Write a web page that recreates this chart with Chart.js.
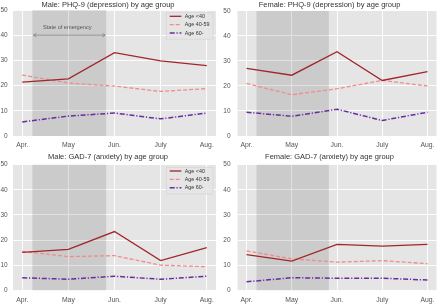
<!DOCTYPE html>
<html>
<head>
<meta charset="utf-8">
<script src="https://cdn.jsdelivr.net/npm/chart.js@4"></script>
<style>
  html, body { margin: 0; padding: 0; background: #ffffff; }
  body { width: 440px; height: 304px; position: relative; overflow: hidden; }
  .panel { position: absolute; width: 220px; height: 152px; }
  canvas { display: block; }
</style>
</head>
<body>
<div class="panel" style="left:0;top:0"><canvas id="c1" width="220" height="152"></canvas></div>
<div class="panel" style="left:220px;top:0"><canvas id="c2" width="220" height="152"></canvas></div>
<div class="panel" style="left:0;top:152px"><canvas id="c3" width="220" height="152"></canvas></div>
<div class="panel" style="left:220px;top:152px"><canvas id="c4" width="220" height="152"></canvas></div>
<script>
// ---- data ----
const months = ['Apr.', 'May', 'Jun.', 'July', 'Aug.'];
const seriesNames = ['Age <40', 'Age 40-59', 'Age 60-'];
const yTicks = [0, 10, 20, 30, 40, 50];

const malePhqU40   = [21.4, 22.7, 33.1, 29.8, 27.9];
const malePhq4059  = [24.2, 21.0, 19.8, 17.7, 18.8];
const malePhq60    = [5.6, 7.9, 9.1, 6.8, 9.1];

const femalePhqU40  = [27.0, 24.3, 33.7, 22.2, 25.7];
const femalePhq4059 = [21.0, 16.5, 18.9, 22.2, 20.0];
const femalePhq60   = [9.5, 7.9, 10.7, 6.2, 9.5];

const maleGadU40   = [15.1, 16.3, 23.4, 11.8, 17.0];
const maleGad4059  = [15.5, 13.4, 13.8, 10.0, 9.4];
const maleGad60    = [5.0, 4.4, 5.6, 4.4, 5.6];

const femaleGadU40  = [14.2, 11.6, 18.3, 17.6, 18.3];
const femaleGad4059 = [15.7, 12.5, 11.2, 11.8, 10.6];
const femaleGad60   = [3.4, 5.0, 4.8, 4.8, 4.1];

const titles = [
  'Male: PHQ-9 (depression) by age group',
  'Female: PHQ-9 (depression) by age group',
  'Male: GAD-7 (anxiety) by age group',
  'Female: GAD-7 (anxiety) by age group'
];
const emergencyLabel = 'State of emergency';
const emergencyStart = 0.22;   // in month units (Apr. = 0)
const emergencyEnd = 1.82;
const emergencyArrowY = 40;

// ---- styles ----
const FONT = "'Liberation Sans', Arial, Helvetica, sans-serif";
const colors = ['#a0262b', '#f28b8b', '#6a2ca0'];
const widths = [1.3, 1.3, 1.5];
const dashes = [[], [4, 2], [5, 1.8, 1.2, 1.8]];

function toPoints(arr) { return arr.map((v, i) => ({ x: i, y: v })); }

const bgPlugin = {
  id: 'bgPlugin',
  beforeDraw(chart) {
    const { ctx, chartArea: a } = chart;
    ctx.save();
    ctx.fillStyle = '#e5e5e5';
    ctx.fillRect(a.left, a.top, a.right - a.left, a.bottom - a.top);
    ctx.restore();
  },
  beforeDatasetsDraw(chart) {
    const { ctx, chartArea: a, scales } = chart;
    const x0 = scales.x.getPixelForValue(emergencyStart);
    const x1 = scales.x.getPixelForValue(emergencyEnd);
    ctx.save();
    ctx.fillStyle = 'rgba(0,0,0,0.11)';
    ctx.fillRect(x0, a.top, x1 - x0, a.bottom - a.top);
    const opt = chart.options.plugins.bgPlugin || {};
    if (opt.arrow) {
      const y = scales.y.getPixelForValue(emergencyArrowY);
      ctx.strokeStyle = '#808080';
      ctx.fillStyle = '#808080';
      ctx.lineWidth = 0.8;
      ctx.beginPath();
      ctx.moveTo(x0 + 1, y); ctx.lineTo(x1 - 1, y); ctx.stroke();
      ctx.beginPath();
      ctx.moveTo(x0 + 1, y); ctx.lineTo(x0 + 4, y - 1.6);
      ctx.moveTo(x0 + 1, y); ctx.lineTo(x0 + 4, y + 1.6);
      ctx.moveTo(x1 - 1, y); ctx.lineTo(x1 - 4, y - 1.6);
      ctx.moveTo(x1 - 1, y); ctx.lineTo(x1 - 4, y + 1.6);
      ctx.stroke();
      ctx.fillStyle = '#555555';
      ctx.font = '5.6px ' + FONT;
      ctx.textAlign = 'center';
      ctx.textBaseline = 'middle';
      ctx.fillText(emergencyLabel, (x0 + x1) / 2 - 2, y - 7.7);
    }
    ctx.restore();
  },
  afterDatasetsDraw(chart) {
    const opt = chart.options.plugins.bgPlugin || {};
    if (!opt.legend) return;
    const { ctx, chartArea: a } = chart;
    const w = 46.6, h = 26.6;
    const bx = a.right - 3 - w, by = a.top + 2.7;
    ctx.save();
    ctx.fillStyle = 'rgba(229,229,229,0.85)';
    ctx.strokeStyle = '#d2d2d2';
    ctx.lineWidth = 0.6;
    ctx.beginPath();
    ctx.rect(bx, by, w, h);
    ctx.fill(); ctx.stroke();
    chart.data.datasets.forEach((ds, i) => {
      const y = a.top + 6.3 + i * 8.35;
      ctx.strokeStyle = ds.borderColor;
      ctx.lineWidth = ds.borderWidth;
      ctx.setLineDash(ds.borderDash || []);
      ctx.beginPath();
      ctx.moveTo(bx + 3.3, y); ctx.lineTo(bx + 15, y); ctx.stroke();
      ctx.setLineDash([]);
      ctx.fillStyle = '#333333';
      ctx.font = '5.4px ' + FONT;
      ctx.textAlign = 'left';
      ctx.textBaseline = 'middle';
      ctx.fillText(ds.label, bx + 18.3, y + 0.3);
    });
    ctx.restore();
  }
};

function makeChart(id, title, series, cfg) {
  const datasets = series.map((arr, i) => ({
    label: seriesNames[i],
    data: toPoints(arr),
    borderColor: colors[i],
    backgroundColor: colors[i],
    borderWidth: widths[i],
    borderDash: dashes[i],
    pointRadius: 0,
    tension: 0,
    fill: false
  }));
  return new Chart(document.getElementById(id), {
    type: 'line',
    data: { datasets },
    plugins: [bgPlugin],
    options: {
      responsive: false,
      maintainAspectRatio: false,
      animation: false,
      events: [],
      layout: { padding: { left: 0, right: cfg.padRight, top: 0, bottom: 0 } },
      plugins: {
        legend: { display: false },
        tooltip: { enabled: false },
        title: {
          display: true,
          text: title,
          color: '#333333',
          font: { family: FONT, size: 7.5, weight: 'normal', lineHeight: 1.2 },
          padding: { top: cfg.titleTop, bottom: cfg.titleBottom }
        },
        bgPlugin: { legend: cfg.legend, arrow: cfg.arrow }
      },
      scales: {
        x: {
          type: 'linear',
          min: -0.2,
          max: 4.2,
          afterBuildTicks(s) { s.ticks = months.map((m, i) => ({ value: i })); },
          afterFit(s) { s.height = cfg.xHeight; },
          ticks: {
            callback: (v) => months[v] !== undefined ? months[v] : '',
            color: '#555555',
            font: { family: FONT, size: 6.8 },
            padding: 5.5,
            maxRotation: 0,
            autoSkip: false
          },
          grid: { color: '#ffffff', lineWidth: 0.9, drawTicks: false },
          border: { display: false }
        },
        y: {
          type: 'linear',
          min: 0,
          max: 50,
          afterBuildTicks(s) { s.ticks = yTicks.map(v => ({ value: v })); },
          afterFit(s) { s.width = cfg.yWidth; },
          ticks: {
            color: '#555555',
            font: { family: FONT, size: 6.5 },
            padding: cfg.yPad
          },
          grid: { color: '#ffffff', lineWidth: 0.9, drawTicks: false },
          border: { display: false }
        }
      }
    }
  });
}

makeChart('c1', titles[0], [malePhqU40, malePhq4059, malePhq60],
  { padRight: 4, yWidth: 13, yPad: 5.3, titleTop: 0, titleBottom: 1, xHeight: 16, legend: true, arrow: true });
makeChart('c2', titles[1], [femalePhqU40, femalePhq4059, femalePhq60],
  { padRight: 1, yWidth: 17.5, yPad: 7, titleTop: 0, titleBottom: 1, xHeight: 16, legend: false, arrow: false });
makeChart('c3', titles[2], [maleGadU40, maleGad4059, maleGad60],
  { padRight: 4, yWidth: 13, yPad: 5.3, titleTop: 0.5, titleBottom: 3.2, xHeight: 13.7, legend: true, arrow: false });
makeChart('c4', titles[3], [femaleGadU40, femaleGad4059, femaleGad60],
  { padRight: 1, yWidth: 17.5, yPad: 7, titleTop: 0.5, titleBottom: 3.2, xHeight: 13.7, legend: false, arrow: false });
</script>
</body>
</html>
